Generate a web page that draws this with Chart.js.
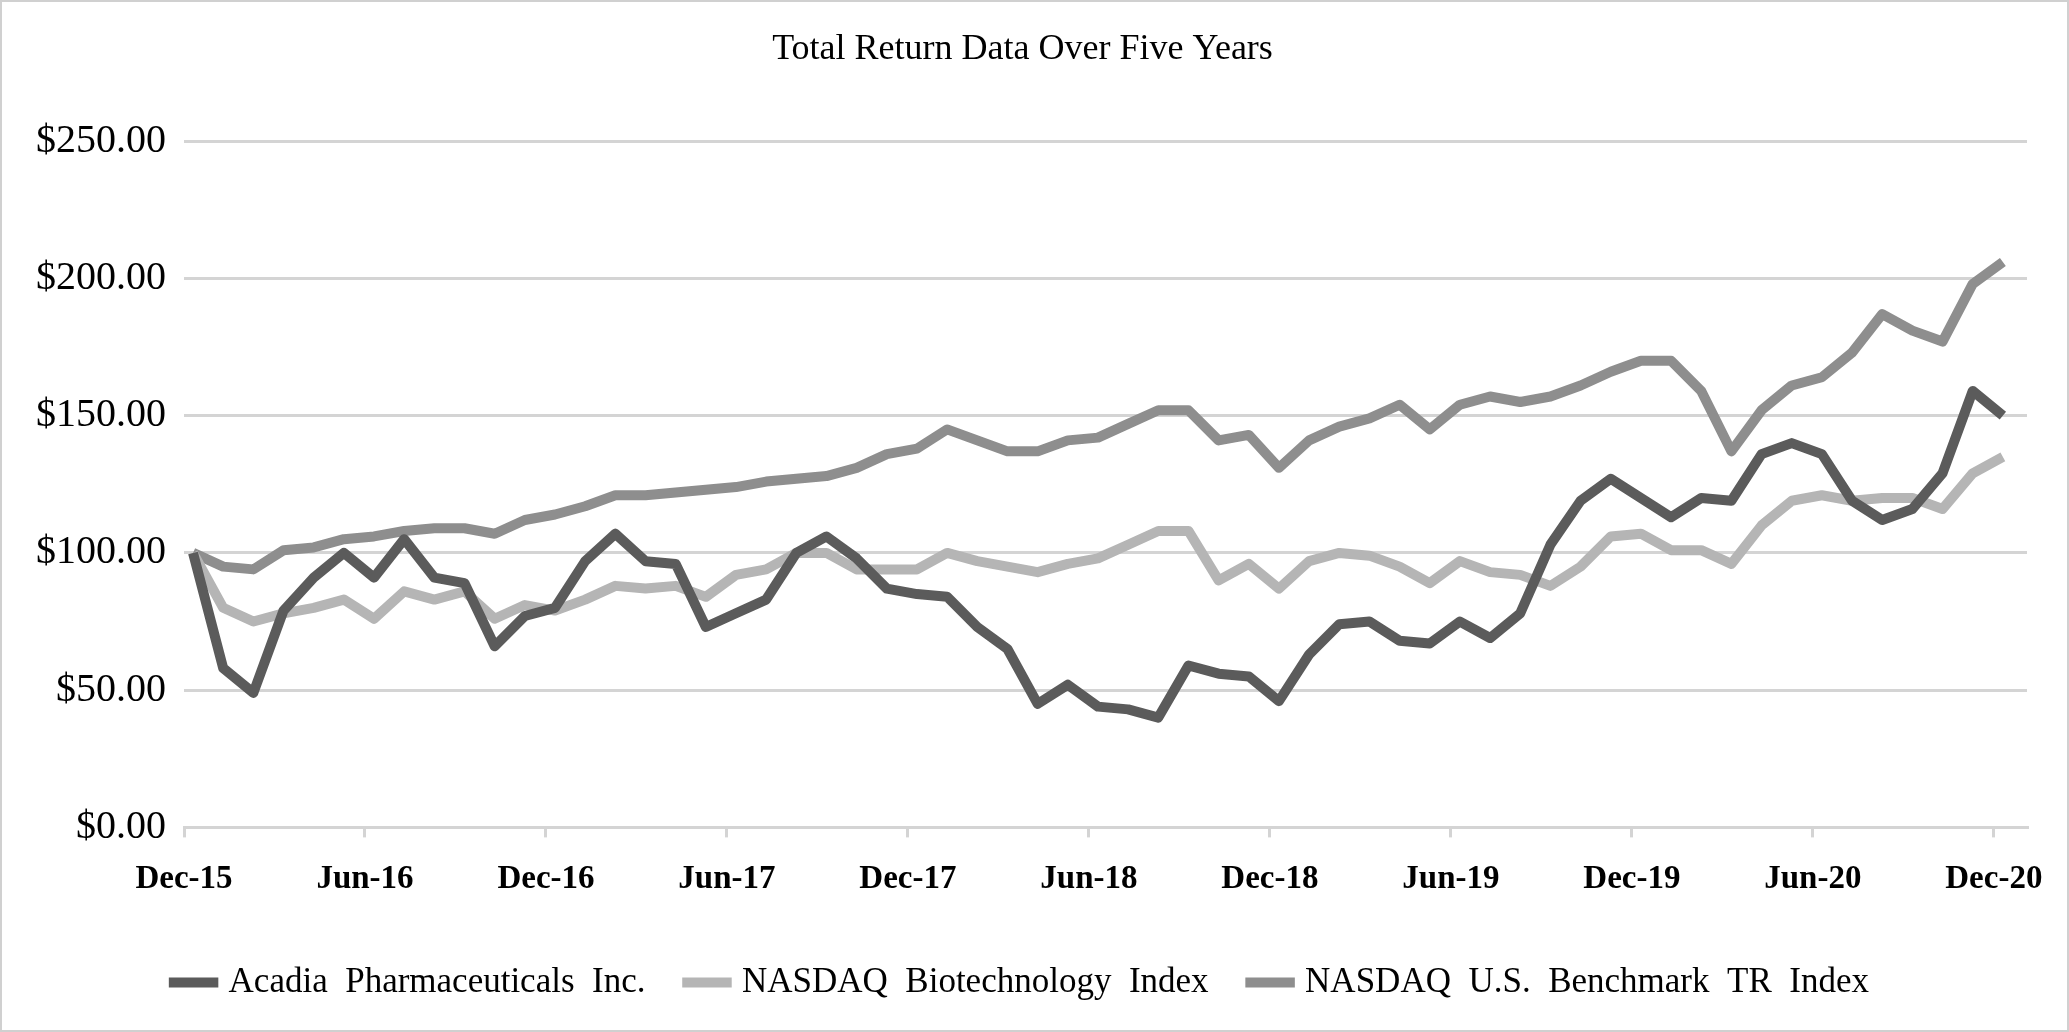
<!DOCTYPE html>
<html>
<head>
<meta charset="utf-8">
<script src="https://cdn.jsdelivr.net/npm/chart.js@4"></script>
<style>
  html, body { margin: 0; padding: 0; background: #fff; }
  #wrap { width: 2069px; height: 1032px; box-sizing: border-box; border: 2px solid #d0d0d0; }
</style>
</head>
<body>
<div id="wrap"><canvas id="chart"></canvas></div>
<script>
// Monthly total return, Dec-15 .. Dec-20 (61 points)
const tickLabels = ['Dec-15', 'Jun-16', 'Dec-16', 'Jun-17', 'Dec-17', 'Jun-18', 'Dec-18', 'Jun-19', 'Dec-19', 'Jun-20', 'Dec-20'];

const acadia = [100, 58, 49, 79, 91, 100, 91, 105, 91, 89, 66, 77, 80, 97, 107, 97, 96, 73, 78, 83,
  100, 106, 98, 87, 85, 84, 73, 65, 45, 52, 44, 43, 40, 59, 56, 55, 46, 63, 74, 75,
  68, 67, 75, 69, 78, 103, 119, 127, 120, 113, 120, 119, 136, 140, 136, 119, 112, 116, 129, 159, 150];

const biotech = [100, 80, 75, 78, 80, 83, 76, 86, 83, 86, 76, 81, 79, 83, 88, 87, 88, 84, 92, 94,
  100, 100, 94, 94, 94, 100, 97, 95, 93, 96, 98, 103, 108, 108, 90, 96, 87, 97, 100, 99,
  95, 89, 97, 93, 92, 88, 95, 106, 107, 101, 101, 96, 110, 119, 121, 119, 120, 120, 116, 129, 135];

const benchmark = [100, 95, 94, 101, 102, 105, 106, 108, 109, 109, 107, 112, 114, 117, 121, 121, 122, 123, 124, 126,
  127, 128, 131, 136, 138, 145, 141, 137, 137, 141, 142, 147, 152, 152, 141, 143, 131, 141, 146, 149,
  154, 145, 154, 157, 155, 157, 161, 166, 170, 170, 159, 137, 152, 161, 164, 173, 187, 181, 177, 198, 206];

const months = acadia.map((_, i) => i);
const tickOffset = -0.3;
const serif = "'Liberation Serif', 'DejaVu Serif', serif";

const toPoints = (arr) => arr.map((v, i) => ({ x: months[i], y: v }));

const line = (label, data, color) => ({
  label,
  data: toPoints(data),
  borderColor: color,
  backgroundColor: color,
  borderWidth: 10,
  pointRadius: 0,
  tension: 0,
  borderJoinStyle: 'round',
});

new Chart(document.getElementById('chart'), {
  type: 'line',
  data: {
    datasets: [
      line('Acadia  Pharmaceuticals  Inc.', acadia, '#5b5b5b'),
      line('NASDAQ  Biotechnology  Index', biotech, '#b5b5b5'),
      line('NASDAQ  U.S.  Benchmark  TR  Index', benchmark, '#8e8e8e'),
    ],
  },
  options: {
    responsive: true,
    maintainAspectRatio: false,
    animation: false,
    layout: { padding: { left: 16, right: 40, top: 6, bottom: 20 } },
    scales: {
      x: {
        type: 'linear',
        min: tickOffset,
        max: 60.8,
        afterBuildTicks: (axis) => {
          axis.ticks = tickLabels.map((_, k) => ({ value: tickOffset + 6 * k }));
        },
        ticks: {
          callback: (v, idx) => tickLabels[idx],
          color: '#000',
          font: { family: serif, size: 33, weight: 'bold' },
          maxRotation: 0,
          autoSkip: false,
          padding: 22,
        },
        grid: { drawOnChartArea: false, color: '#d4d4d4', lineWidth: 3, tickLength: 10 },
        border: { color: '#d4d4d4', width: 3 },
      },
      y: {
        min: 0,
        max: 250,
        ticks: {
          stepSize: 50,
          color: '#000',
          font: { family: serif, size: 40 },
          padding: 18,
          callback: (v) => '$' + v.toFixed(2),
        },
        grid: { color: '#d4d4d4', lineWidth: 3, drawTicks: false },
        border: { display: false },
      },
    },
    plugins: {
      title: {
        display: true,
        text: 'Total Return Data Over Five Years',
        color: '#000',
        font: { family: serif, size: 36, weight: 'normal' },
        padding: { top: 20, bottom: 70 },
      },
      legend: {
        position: 'bottom',
        labels: {
          color: '#000',
          font: { family: serif, size: 35 },
          usePointStyle: true,
          pointStyle: 'line',
          boxWidth: 104,
          padding: 44,
        },
      },
      tooltip: { enabled: false },
    },
  },
});
</script>
</body>
</html>
